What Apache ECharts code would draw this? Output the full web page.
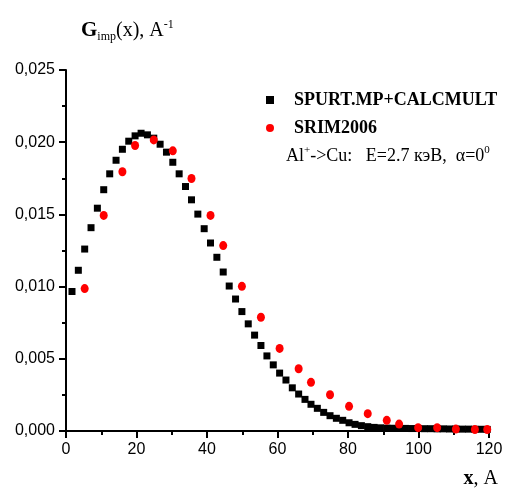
<!DOCTYPE html>
<html>
<head>
<meta charset="utf-8">
<script src="https://cdn.jsdelivr.net/npm/echarts@6/dist/echarts.min.js"></script>
<style>
  html, body { margin: 0; padding: 0; background: #fff; }
  #chart { width: 506px; height: 490px; }
</style>
</head>
<body>
<div id="chart"></div>
<script>
// Depth distribution of implanted ions, x in Angstrom
const spurtX = [1.7, 3.5, 5.3, 7.1, 8.9, 10.7, 12.4, 14.2, 16.0, 17.8, 19.6, 21.3, 23.1, 24.9,
  26.7, 28.5, 30.3, 32.1, 33.9, 35.6, 37.4, 39.2, 41.0, 42.8, 44.6, 46.3, 48.1, 49.9, 51.7,
  53.5, 55.3, 57.0, 58.8, 60.6, 62.4, 64.2, 66.0, 67.8, 69.5, 71.3, 73.1, 74.9, 76.7, 78.5,
  80.3, 82.0, 83.8, 85.6, 87.4, 89.2, 91.0, 92.8, 94.5, 96.3, 98.1, 99.9, 101.7, 103.5,
  105.3, 107.0, 108.8, 110.6, 112.4, 114.2, 116.0, 117.8, 119.5];
const spurtG = [0.00966, 0.01113, 0.01260, 0.01408, 0.01543, 0.01671, 0.01781, 0.01875,
  0.01951, 0.02007, 0.02044, 0.02062, 0.02051, 0.02028, 0.01986, 0.01931, 0.01861, 0.01781,
  0.01693, 0.01601, 0.01502, 0.01401, 0.01302, 0.01203, 0.01101, 0.01004, 0.00914, 0.00827,
  0.00742, 0.00664, 0.00592, 0.00520, 0.00458, 0.00401, 0.00353, 0.00299, 0.00256, 0.00219,
  0.00185, 0.00157, 0.00129, 0.00106, 0.00088, 0.00074, 0.00057, 0.00046, 0.00037, 0.00030,
  0.00025, 0.00022, 0.00020, 0.00019, 0.00018, 0.00018, 0.00017, 0.00017, 0.00016, 0.00016,
  0.00015, 0.00015, 0.00014, 0.00014, 0.00013, 0.00013, 0.00012, 0.00012, 0.00011];

const srimX = [5.3, 10.7, 16.0, 19.6, 24.9, 30.3, 35.6, 41.0, 44.6, 49.9, 55.3, 60.6, 66.0,
  69.5, 74.9, 80.3, 85.6, 91.0, 94.5, 99.9, 105.3, 110.6, 116.0, 119.5];
const srimG = [0.00986, 0.01493, 0.01795, 0.01977, 0.02016, 0.01940, 0.01749, 0.01493,
  0.01284, 0.01002, 0.00788, 0.00572, 0.00431, 0.00337, 0.00251, 0.00171, 0.00120, 0.00074,
  0.00048, 0.00023, 0.00023, 0.00013, 0.00010, 0.00010];

const xTicks = [0, 20, 40, 60, 80, 100, 120];
const yTicks = ['0,000', '0,005', '0,010', '0,015', '0,020', '0,025'];

const seriesNames = ['SPURT.MP+CALCMULT', 'SRIM2006'];
const noteText = ['Al', '+', '->Cu:   E=2.7 кэВ,  α=0', '0'];

const pairs = (xs, ys) => xs.map((x, i) => [x, ys[i]]);

const serif = '"Liberation Serif", "Times New Roman", serif';
const sans = '"Liberation Sans", Arial, sans-serif';

const chart = echarts.init(document.getElementById('chart'), null, { renderer: 'canvas' });

const axisCommon = {
  axisLine: { show: true, onZero: false, lineStyle: { color: '#000', width: 2 } },
  axisTick: { show: true, inside: false, length: 7, lineStyle: { color: '#000', width: 2 } },
  minorTick: { show: true, splitNumber: 2, length: 4, lineStyle: { color: '#000', width: 2 } },
  splitLine: { show: false },
  axisLabel: { color: '#000', fontFamily: sans, fontSize: 16, margin: 11 }
};

chart.setOption({
  animation: false,
  backgroundColor: '#fff',
  grid: { left: 66, right: 17, top: 70, bottom: 59, containLabel: false },
  xAxis: Object.assign({}, axisCommon, {
    type: 'value', min: 0, max: 120, interval: 20,
    axisLabel: Object.assign({}, axisCommon.axisLabel, {
      formatter: v => String(xTicks[Math.round(v / 20)])
    })
  }),
  yAxis: Object.assign({}, axisCommon, {
    type: 'value', min: 0, max: 0.025, interval: 0.005,
    axisLabel: Object.assign({}, axisCommon.axisLabel, {
      formatter: v => yTicks[Math.round(v / 0.005)]
    })
  }),
  legend: {
    orient: 'vertical', left: 261, top: 86, itemGap: 10,
    itemWidth: 8, itemHeight: 8,
    data: [
      { name: seriesNames[0], icon: 'rect' },
      { name: seriesNames[1], icon: 'circle' }
    ],
    textStyle: { fontFamily: serif, fontWeight: 'bold', fontSize: 18, color: '#000',
      padding: [0, 0, 0, 15] }
  },
  graphic: [
    {
      type: 'text', left: 81, top: 19,
      style: {
        text: '{g|G}{s|imp}{n|(x), A}{p|-1}',
        rich: {
          g: { fontFamily: serif, fontWeight: 'bold', fontSize: 21, fill: '#000' },
          s: { fontFamily: serif, fontSize: 12, fill: '#000', padding: [12, 0, 0, 0] },
          n: { fontFamily: serif, fontSize: 20, fill: '#000' },
          p: { fontFamily: serif, fontSize: 12, fill: '#000', padding: [0, 0, 12, 0] }
        }
      }
    },
    {
      type: 'text', left: 286, top: 145,
      style: {
        text: '{n|' + noteText[0] + '}{p|' + noteText[1] + '}{n|' + noteText[2] + '}{p|' + noteText[3] + '}',
        rich: {
          n: { fontFamily: serif, fontSize: 18, fill: '#000' },
          p: { fontFamily: serif, fontSize: 11, fill: '#000', padding: [0, 0, 11, 0] }
        }
      }
    },
    {
      type: 'text', right: 8, top: 469,
      style: {
        text: '{b|x}{n|, A}',
        rich: {
          b: { fontFamily: serif, fontWeight: 'bold', fontSize: 20, fill: '#000' },
          n: { fontFamily: serif, fontSize: 20, fill: '#000' }
        }
      }
    }
  ],
  series: [
    {
      name: seriesNames[0], type: 'scatter', symbol: 'rect', symbolSize: 7,
      itemStyle: { color: '#000', opacity: 1 }, data: pairs(spurtX, spurtG), z: 2
    },
    {
      name: seriesNames[1], type: 'scatter', symbol: 'circle', symbolSize: [8, 9],
      itemStyle: { color: '#ff0000', opacity: 1 }, data: pairs(srimX, srimG), z: 3
    }
  ]
});
</script>
</body>
</html>
